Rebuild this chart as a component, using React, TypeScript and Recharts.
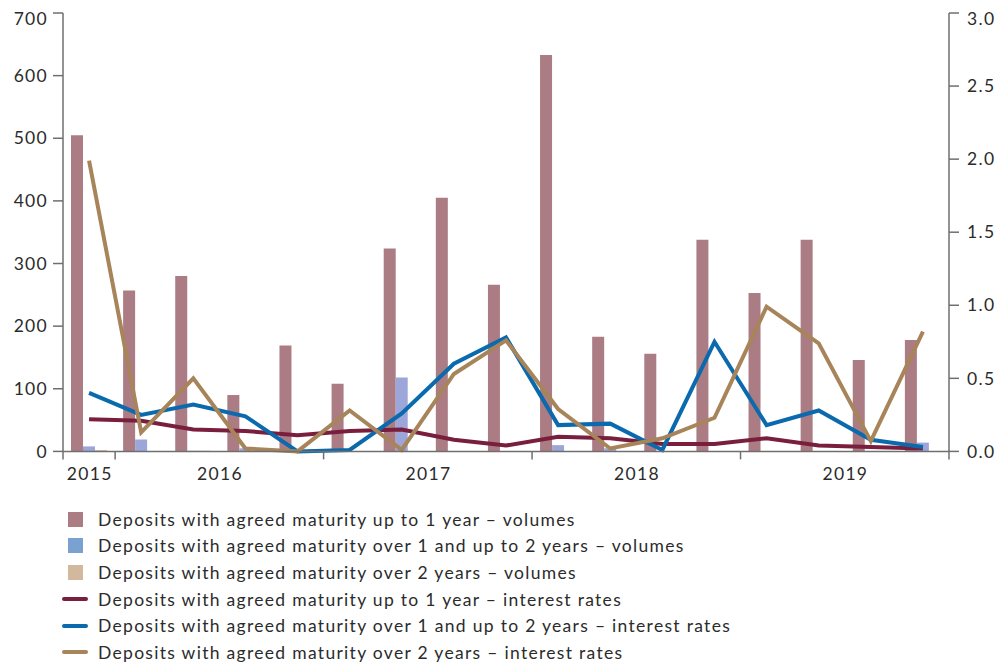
import { Bar, ComposedChart, Line, XAxis, YAxis } from "recharts";

const periods = [
  "2015 Q4",
  "2016 Q1", "2016 Q2", "2016 Q3", "2016 Q4",
  "2017 Q1", "2017 Q2", "2017 Q3", "2017 Q4",
  "2018 Q1", "2018 Q2", "2018 Q3", "2018 Q4",
  "2019 Q1", "2019 Q2", "2019 Q3", "2019 Q4",
];

// volumes (left axis)
const volUpTo1 = [505, 257, 280, 90, 169, 108, 324, 405, 266, 633, 183, 156, 338, 253, 338, 146, 178];
const volOver1To2 = [8, 19, 1, 5, 0, 0, 118, 0, 0, 10, 5, 0, 0, 0, 0, 0, 14];
const volOver2 = [2, 0, 1, 0, 0, 0, 0, 0, 0, 0, 0, 0, 0, 0, 0, 0, 0];

// interest rates (right axis)
const rateUpTo1 = [0.22, 0.21, 0.15, 0.14, 0.11, 0.14, 0.15, 0.08, 0.04, 0.1, 0.09, 0.05, 0.05, 0.09, 0.04, 0.03, 0.02];
const rateOver1To2 = [0.4, 0.25, 0.32, 0.24, 0.0, 0.01, 0.26, 0.6, 0.78, 0.18, 0.19, 0.01, 0.75, 0.18, 0.28, 0.08, 0.03];
const rateOver2 = [1.99, 0.13, 0.5, 0.02, 0.0, 0.28, 0.01, 0.53, 0.76, 0.29, 0.02, 0.09, 0.23, 0.99, 0.74, 0.07, 0.82];

const leftTicks = [0, 100, 200, 300, 400, 500, 600, 700];
const rightTicks = [0, 0.5, 1, 1.5, 2, 2.5, 3];

const data = periods.map((period, i) => ({
  period,
  volUpTo1: volUpTo1[i],
  volOver1To2: volOver1To2[i],
  volOver2: volOver2[i],
  rateUpTo1: rateUpTo1[i],
  rateOver1To2: rateOver1To2[i],
  rateOver2: rateOver2[i],
}));

const FONT = "Lato, 'Open Sans', sans-serif";
const TEXT = "#2b2b2b";
const AXIS = "#6f6f6f";
const FS = 17.5;
const LS = 1.3;

const CHART_W = 1000;
const CHART_H = 482;
const PLOT_H = 438.4;
const LEFT_W = 55;
const RIGHT_W = 59;
const band = (CHART_W - LEFT_W - RIGHT_W) / periods.length;

const legendItems = [
  { label: "Deposits with agreed maturity up to 1 year – volumes", color: "#ab7c83", kind: "box" },
  { label: "Deposits with agreed maturity over 1 and up to 2 years – volumes", color: "#7ba1d1", kind: "box" },
  { label: "Deposits with agreed maturity over 2 years – volumes", color: "#d2b89c", kind: "box" },
  { label: "Deposits with agreed maturity up to 1 year – interest rates", color: "#7a1e3e", kind: "line" },
  { label: "Deposits with agreed maturity over 1 and up to 2 years – interest rates", color: "#0a6aad", kind: "line" },
  { label: "Deposits with agreed maturity over 2 years – interest rates", color: "#a7845a", kind: "line" },
];

function YearTick(props: any) {
  const { x, y, payload } = props;
  const i = payload.index;
  const [year, q] = String(payload.value).split(" ");
  const marks: number[] = [];
  if (i === 0) marks.push(x - band / 2);
  if (q === "Q4") marks.push(x + band / 2);
  let labelX: number | null = null;
  if (i === 0) labelX = x;
  else if (q === "Q2") labelX = x + band / 2;
  return (
    <g>
      {marks.map((mx) => (
        <line key={mx} x1={mx} x2={mx} y1={y} y2={y + 8} stroke={AXIS} strokeWidth={1.5} />
      ))}
      {labelX !== null && (
        <text
          x={labelX + LS / 2}
          y={y + 29}
          textAnchor="middle"
          fill={TEXT}
          fontSize={FS}
          fontFamily={FONT}
          letterSpacing={LS}
        >
          {year}
        </text>
      )}
    </g>
  );
}

export default function App() {
  return (
    <div style={{ width: CHART_W, fontFamily: FONT }}>
      <ComposedChart
        width={CHART_W}
        height={CHART_H}
        data={data}
        margin={{ top: 5, right: 0, bottom: 0, left: 0 }}
        barSize={12}
        barGap={0}
      >
        <XAxis
          dataKey="period"
          interval={0}
          tickSize={0}
          tickMargin={0}
          tickLine={false}
          height={CHART_H - 5 - PLOT_H}
          stroke={AXIS}
          strokeWidth={1.5}
          tick={<YearTick />}
        />
        <YAxis
          yAxisId="left"
          width={LEFT_W}
          domain={[0, 700]}
          ticks={leftTicks}
          tickSize={10}
          tickMargin={5}
          stroke={AXIS}
          strokeWidth={1.5}
          tick={{ fill: TEXT, fontSize: FS, fontFamily: FONT, letterSpacing: LS }}
        />
        <YAxis
          yAxisId="right"
          orientation="right"
          width={RIGHT_W}
          domain={[0, 3]}
          ticks={rightTicks}
          tickFormatter={(v: number) => v.toFixed(1)}
          tickSize={10}
          tickMargin={8}
          stroke={AXIS}
          strokeWidth={1.5}
          tick={{ fill: TEXT, fontSize: FS, fontFamily: FONT, letterSpacing: LS, textAnchor: "start" }}
        />
        <Bar yAxisId="left" dataKey="volUpTo1" fill="#ab7c83" isAnimationActive={false} />
        <Bar yAxisId="left" dataKey="volOver1To2" fill="#9ca6d8" isAnimationActive={false} />
        <Bar yAxisId="left" dataKey="volOver2" fill="#d2b89c" isAnimationActive={false} />
        <Line yAxisId="right" type="linear" dataKey="rateUpTo1" stroke="#7a1e3e" strokeWidth={4} dot={false} isAnimationActive={false} />
        <Line yAxisId="right" type="linear" dataKey="rateOver1To2" stroke="#0a6aad" strokeWidth={4} dot={false} isAnimationActive={false} />
        <Line yAxisId="right" type="linear" dataKey="rateOver2" stroke="#a7845a" strokeWidth={4} dot={false} isAnimationActive={false} />
      </ComposedChart>
      <div style={{ marginTop: 16, paddingLeft: 54 }}>
        {legendItems.map((item) => (
          <div key={item.label} style={{ display: "flex", alignItems: "center", height: 26.6 }}>
            <div style={{ width: 26, display: "flex", justifyContent: "center", marginRight: 10 }}>
              {item.kind === "box" ? (
                <div style={{ width: 15, height: 15, background: item.color }} />
              ) : (
                <div style={{ width: 26, height: 4, borderRadius: 2, background: item.color }} />
              )}
            </div>
            <span style={{ fontSize: FS, letterSpacing: LS, color: TEXT, whiteSpace: "nowrap" }}>{item.label}</span>
          </div>
        ))}
      </div>
    </div>
  );
}
